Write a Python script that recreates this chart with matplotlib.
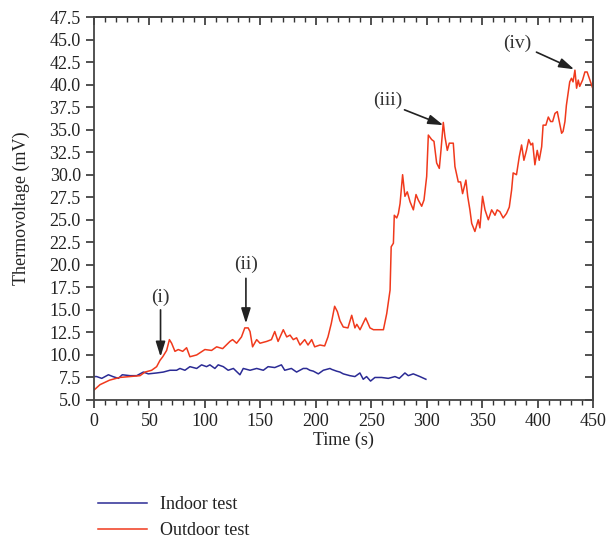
import matplotlib
matplotlib.use("Agg")
import matplotlib.pyplot as plt
from matplotlib.ticker import MultipleLocator

# indoor test
t_in = [0, 2.4, 7, 13, 17, 22, 25.5, 32.5, 38.5, 44.5, 49, 56.5, 62.5, 68.5, 74.5, 77.5,
        82, 86.5, 92.6, 97, 101.5, 104.5, 109, 112, 116.6, 121, 125.7, 131.6, 134.6,
        140.7, 146.7, 152.7, 157, 163, 169, 172, 178, 182.7, 188.7, 191.8, 194.7, 197.8,
        200.8, 202.3, 206.8, 212.8, 214.3, 218.8, 221.8, 224.8, 227.8, 230.8, 235.3,
        239.8, 242.8, 245.8, 249.4, 253.3, 259.3, 265.4, 271.4, 275.3, 280.4, 283.4,
        287.9, 293.9, 299.3]
v_in = [7.6, 7.6, 7.4, 7.8, 7.6, 7.4, 7.8, 7.7, 7.7, 8.1, 7.9, 8.0, 8.1, 8.3, 8.3, 8.5,
        8.3, 8.7, 8.5, 8.9, 8.7, 8.9, 8.5, 8.9, 8.7, 8.3, 8.5, 7.8, 8.5,
        8.3, 8.5, 8.3, 8.7, 8.6, 8.9, 8.3, 8.5, 8.1, 8.5, 8.5, 8.3, 8.2,
        8.0, 7.9, 8.3, 8.5, 8.4, 8.2, 8.1, 7.9, 7.8, 7.7, 7.6,
        8.0, 7.3, 7.6, 7.1, 7.5, 7.5, 7.4, 7.6, 7.4, 8.0, 7.7,
        7.9, 7.6, 7.3]

# outdoor test
t_out = [0, 5.4, 14, 23, 32, 41.5, 46, 52, 56.5, 59.5, 62, 65.5, 68, 70, 73, 76, 80,
         83.5, 86.5, 92.6, 100, 106, 110.6, 116, 122.6, 125, 128.6, 133, 136, 139,
         140.7, 143, 146.7, 149.7, 155.7, 160, 163, 166, 170.7, 173.8, 176.8, 179.7,
         182.7, 185.8, 190, 193, 196.3, 199, 203.8, 208, 211, 214, 217, 219.5, 221.8,
         224.8, 229, 232.4, 235.3, 237, 239.9, 245, 248.9, 252, 256.4, 261, 264, 267,
         268, 270, 270.8, 273, 274.5, 276, 278.3, 280.4, 282.5, 285, 288, 290.4,
         292.4, 295.5, 297.6, 300, 301.5, 304.5, 306.6, 309, 311.4, 312.9, 315,
         316.5, 318.6, 320.4, 324, 325.5, 328.5, 330.6, 332.4, 335.4, 337, 339,
         340.6, 343.5, 346.5, 348, 350.4, 352.6, 355.6, 358.6, 361.6, 363.6, 366,
         369, 372, 374.5, 376.6, 378, 381, 383.5, 385.6, 387.7, 390, 392, 394,
         395.6, 397.6, 399.7, 401.5, 403.7, 405, 407.5, 409.7, 411.8, 413.6, 415.7,
         417.8, 419.6, 421.7, 423, 424.7, 426, 429, 430.6, 432, 433.7, 435.2, 436.7,
         438, 440.6, 442.7, 444.7, 447.2, 450]
v_out = [6.1, 6.7, 7.2, 7.5, 7.6, 7.7, 8.1, 8.3, 8.7, 9.4, 9.8, 10.5, 11.7, 11.3, 10.4, 10.6, 10.4,
         10.8, 9.8, 10.0, 10.6, 10.5, 10.9, 10.7, 11.5, 11.7, 11.3, 12.0, 13.0, 13.0,
         12.6, 10.9, 11.7, 11.3, 11.5, 11.7, 12.6, 11.5, 12.8, 12.0, 12.2, 11.7,
         11.9, 11.1, 11.7, 11.1, 11.7, 10.9, 11.1, 11.0, 12.0, 13.5, 15.4, 14.8, 13.8,
         13.1, 13.0, 14.4, 13.0, 13.4, 12.8, 14.1, 13.0, 12.8, 12.8, 12.8, 14.6, 17.2,
         22.0, 22.4, 25.5, 25.2, 25.7, 26.8, 30.0, 27.6, 28.1, 27.0, 26.1, 27.8,
         27.2, 26.5, 27.2, 29.8, 34.4, 33.9, 33.7, 31.3, 30.7, 32.7, 35.8,
         34.2, 32.7, 33.5, 33.5, 30.9, 29.2, 29.2, 27.9, 29.4, 27.6, 26.1,
         24.6, 23.7, 25.0, 24.1, 27.6, 26.1, 25.0, 26.1, 25.5, 26.1, 25.9,
         25.2, 25.7, 26.4, 28.3, 30.2, 30.0, 32.0, 33.3, 31.6, 32.7, 33.9, 33.3,
         33.5, 31.1, 32.7, 31.6, 33.1, 35.5, 35.5, 36.4, 35.9, 35.9, 36.8,
         37.0, 35.9, 34.6, 34.8, 35.9, 37.7, 40.3, 40.7, 40.3, 41.6, 39.6, 40.5,
         39.8, 40.5, 41.4, 41.4, 40.5, 39.5]

# annotation labels: text position, arrow tail, arrow head
notes = [("(i)", (60, 16.4), (60, 15.0), (60, 9.8)),
         ("(ii)", (137, 20.0), (137, 18.5), (137, 13.5)),
         ("(iii)", (265, 38.3), (280, 37.2), (315, 35.5)),
         ("(iv)", (382, 44.6), (399, 43.6), (433, 41.7))]

plt.rcParams['font.family'] = ['Liberation Serif', 'DejaVu Serif']
plt.rcParams['font.size'] = 13

fig = plt.figure(figsize=(6.1, 5.45), dpi=100)
ax = fig.add_axes((94 / 610, 1 - 400 / 545, 499 / 610, 383 / 545))

ax.plot(t_in, v_in, color='#2b2b95', lw=1.1, label='Indoor test')
ax.plot(t_out, v_out, color='#f0391c', lw=1.1, label='Outdoor test')

for txt, tpos, tail, head in notes:
    ax.text(tpos[0], tpos[1], txt, ha='center', va='center', fontsize=14, color='#333333')
    ax.annotate('', xy=head, xytext=tail,
                arrowprops=dict(arrowstyle='-|>,head_length=0.7,head_width=0.22', color='#222222',
                                lw=1.2, shrinkA=0, shrinkB=0))

ax.set_xlim(0, 450)
ax.set_ylim(5, 47.5)
ax.xaxis.set_major_locator(MultipleLocator(50))
ax.xaxis.set_minor_locator(MultipleLocator(10))
ax.yaxis.set_major_locator(MultipleLocator(2.5))
ax.yaxis.set_major_formatter(plt.FormatStrFormatter('%.1f'))
ax.tick_params(axis='both', which='major', direction='out', length=6, width=1.2, colors='#333333',
               labelcolor='#222222', labelsize=13)
ax.tick_params(axis='x', which='minor', direction='out', length=3.5, width=1.0, colors='#333333')
for s in ax.spines.values():
    s.set_linewidth(1.3)
    s.set_color('#444444')

top = ax.secondary_xaxis('top')
top.xaxis.set_major_locator(MultipleLocator(50))
top.xaxis.set_minor_locator(MultipleLocator(10))
top.tick_params(which='major', direction='in', length=6, width=1.2, labeltop=False, colors='#333333')
top.tick_params(which='minor', direction='in', length=3.5, width=1.0, colors='#333333')
top.spines['top'].set_linewidth(1.3)
top.spines['top'].set_color('#444444')

right = ax.secondary_yaxis('right')
right.yaxis.set_major_locator(MultipleLocator(2.5))
right.tick_params(direction='in', length=6, width=1.2, labelright=False, colors='#333333')
right.spines['right'].set_linewidth(1.3)
right.spines['right'].set_color('#444444')

ax.set_xlabel('Time (s)', fontsize=13, color='#222222', labelpad=1)
ax.set_ylabel('Thermovoltage (mV)', fontsize=13, color='#222222')
ax.yaxis.set_label_coords(-0.128, 0.5)

fig.legend(loc='upper left', bbox_to_anchor=(82 / 610, 1 - 480 / 545), frameon=False,
           fontsize=13, handlelength=2.7, handletextpad=0.7, labelspacing=0.5,
           labelcolor='#222222')

fig.savefig('out.png', dpi=100)
